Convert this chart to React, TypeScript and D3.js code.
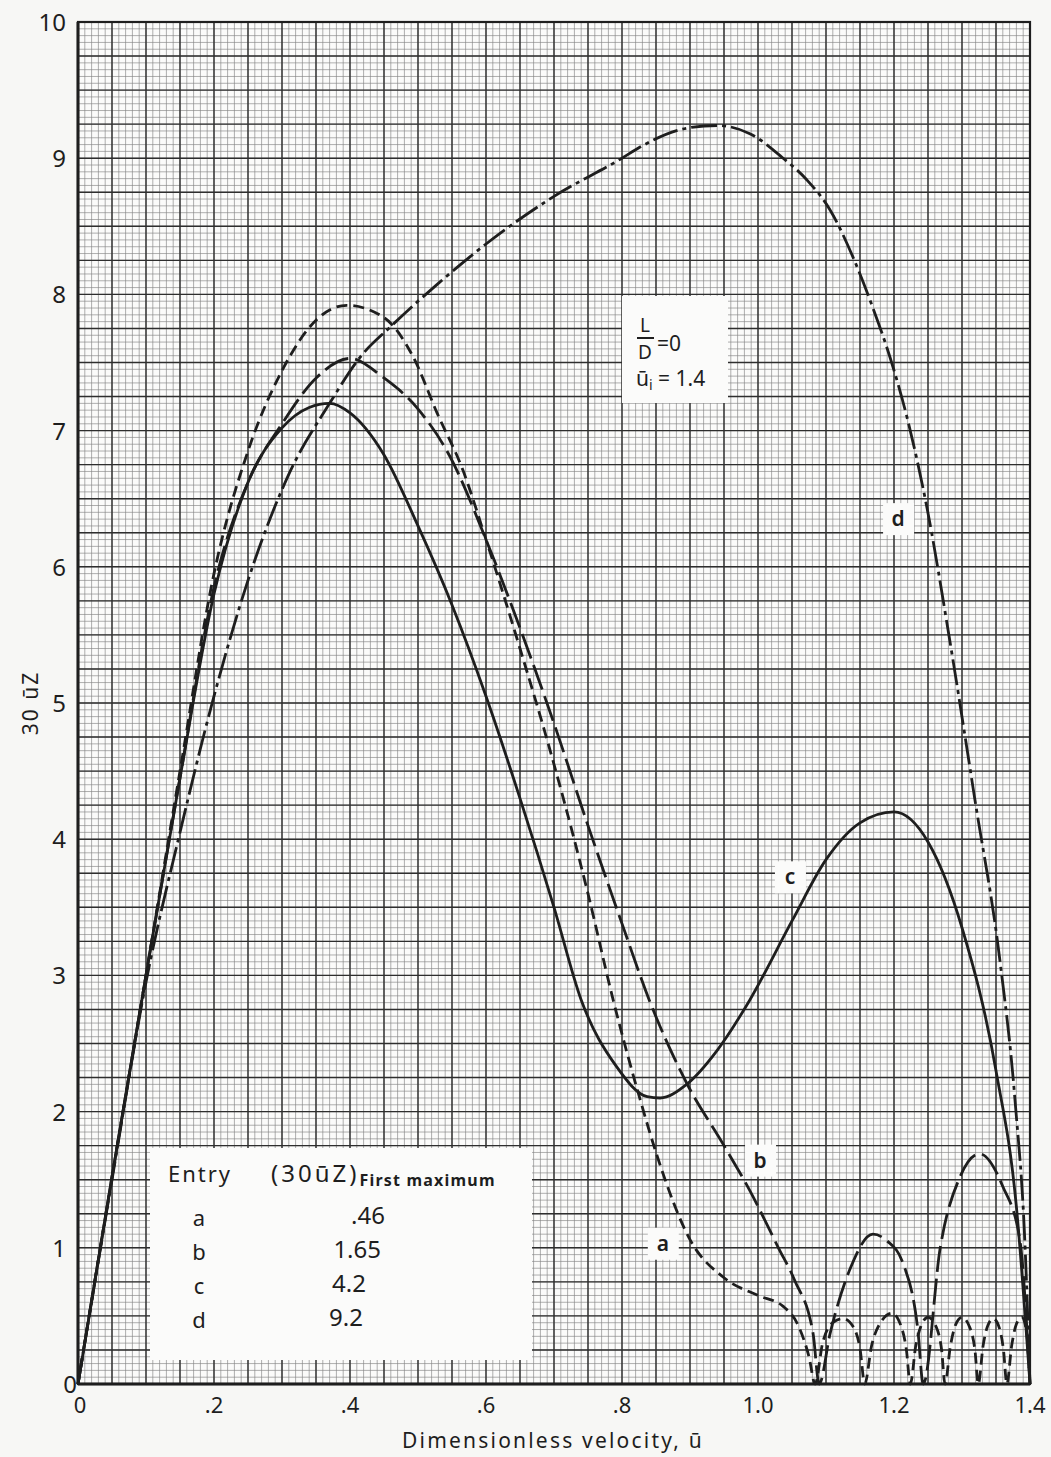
import React from "react";
import * as d3 from "d3";

const W = 1051;
const H = 1457;

// x: dimensionless velocity ū, y: 30ūZ
const xTicks = [0, 0.2, 0.4, 0.6, 0.8, 1.0, 1.2, 1.4];
const xTickLabels = ["0", ".2", ".4", ".6", ".8", "1.0", "1.2", "1.4"];
const yTicks = [0, 1, 2, 3, 4, 5, 6, 7, 8, 9, 10];

const curveA: [number, number][] = [
  [0, 0], [0.05, 1.52], [0.1, 3.0], [0.15, 4.5], [0.2, 5.95], [0.25, 6.85], [0.3, 7.44],
  [0.35, 7.81], [0.395, 7.92], [0.45, 7.83], [0.493, 7.54], [0.528, 7.13], [0.566, 6.71],
  [0.6, 6.2], [0.65, 5.4], [0.7, 4.55], [0.75, 3.6], [0.787, 2.82], [0.826, 2.1],
  [0.85, 1.7], [0.9, 1.06], [0.95, 0.78], [1.0, 0.65], [1.037, 0.57], [1.06, 0.42],
  [1.075, 0.2], [1.084, 0],
  [1.095, 0.3], [1.11, 0.45], [1.125, 0.48], [1.14, 0.42], [1.15, 0.26], [1.157, 0],
  [1.167, 0.28], [1.18, 0.45], [1.197, 0.52], [1.21, 0.43], [1.218, 0.26], [1.224, 0],
  [1.232, 0.28], [1.24, 0.43], [1.25, 0.49], [1.262, 0.42], [1.27, 0.25], [1.275, 0],
  [1.283, 0.28], [1.291, 0.44], [1.3, 0.49], [1.311, 0.42], [1.319, 0.25], [1.324, 0],
  [1.331, 0.28], [1.338, 0.43], [1.346, 0.48], [1.355, 0.41], [1.361, 0.25], [1.366, 0],
  [1.373, 0.28], [1.38, 0.44], [1.388, 0.49], [1.395, 0.38], [1.4, 0],
];

const curveB: [number, number][] = [
  [0, 0], [0.05, 1.52], [0.1, 3.0], [0.15, 4.45], [0.2, 5.85], [0.25, 6.62], [0.3, 7.05],
  [0.351, 7.39], [0.4, 7.53], [0.449, 7.39], [0.498, 7.17], [0.547, 6.81], [0.6, 6.2],
  [0.65, 5.55], [0.7, 4.85], [0.75, 4.1], [0.8, 3.38], [0.84, 2.82], [0.895, 2.21],
  [0.95, 1.75], [0.988, 1.42], [1.03, 1.0], [1.054, 0.76], [1.081, 0.37], [1.09, 0],
  [1.106, 0.37], [1.135, 0.84], [1.169, 1.1], [1.19, 1.05], [1.213, 0.89], [1.235, 0.4],
  [1.243, 0], [1.268, 1.0], [1.297, 1.52], [1.326, 1.69], [1.36, 1.45], [1.385, 1.06], [1.4, 0],
];

const curveC: [number, number][] = [
  [0, 0], [0.05, 1.52], [0.1, 3.0], [0.15, 4.45], [0.2, 5.8], [0.25, 6.62], [0.3, 7.02],
  [0.34, 7.17], [0.37, 7.2], [0.4, 7.13], [0.449, 6.83], [0.5, 6.3], [0.55, 5.72],
  [0.6, 5.05], [0.65, 4.3], [0.7, 3.5], [0.74, 2.82], [0.792, 2.33], [0.837, 2.11],
  [0.856, 2.1], [0.895, 2.2], [0.94, 2.45], [0.988, 2.82], [1.05, 3.4], [1.1, 3.85],
  [1.15, 4.12], [1.2, 4.2], [1.25, 3.98], [1.3, 3.35], [1.35, 2.3], [1.38, 1.3], [1.4, 0],
];

const curveD: [number, number][] = [
  [0, 0], [0.05, 1.5], [0.1, 2.95], [0.15, 4.05], [0.2, 5.05], [0.25, 5.9], [0.312, 6.7],
  [0.37, 7.2], [0.415, 7.54], [0.459, 7.76], [0.532, 8.09], [0.6, 8.37], [0.7, 8.72],
  [0.8, 9.0], [0.826, 9.08], [0.895, 9.22], [0.94, 9.24], [0.988, 9.18], [1.037, 9.0],
  [1.072, 8.84], [1.106, 8.62], [1.14, 8.27], [1.169, 7.9], [1.194, 7.54], [1.219, 7.1],
  [1.249, 6.42], [1.282, 5.46], [1.319, 4.29], [1.356, 3.1], [1.378, 2.08], [1.393, 0.98], [1.4, 0],
];

const tableEntries = ["a", "b", "c", "d"];
const tableValues = [".46", "1.65", "4.2", "9.2"];

const FONT = "'Noto Sans', 'DejaVu Sans', sans-serif";
const INK = "#1e1e1e";

export default function App() {
  const x = d3.scaleLinear().domain([0, 1.4]).range([78, 1030]);
  const y = d3.scaleLinear().domain([0, 10]).range([1384, 22]);

  const line = d3
    .line<[number, number]>()
    .x((d) => x(d[0]))
    .y((d) => y(d[1]))
    .curve(d3.curveMonotoneX);

  const minorX = d3.range(0, 141).map((i) => i / 100);
  const minorY = d3.range(0, 201).map((i) => i / 20);
  const heavyX = d3.range(0, 29).map((i) => i * 0.05);
  const heavyY = d3.range(0, 41).map((i) => i * 0.25);

  const series = [
    { data: curveA, dash: "11 6" },
    { data: curveB, dash: "26 7" },
    { data: curveC, dash: "none" },
    { data: curveD, dash: "26 5 4 5" },
  ];

  const labelBoxes = [
    { t: "d", u: 1.206, v: 6.35 },
    { t: "c", u: 1.047, v: 3.72 },
    { t: "b", u: 1.003, v: 1.64 },
    { t: "a", u: 0.86, v: 1.03 },
  ];

  return (
    <svg
      width={W}
      height={H}
      style={{ position: "absolute", left: 0, top: 0, background: "#f7f7f5" }}
    >
      <rect x={0} y={0} width={W} height={H} fill="#f7f7f5" />
      <rect x={x(0)} y={y(10)} width={x(1.4) - x(0)} height={y(0) - y(10)} fill="#fbfbfa" />
      {/* grid */}
      <g>
        {minorX.map((v, i) => (
          <line key={"mx" + i} x1={x(v)} x2={x(v)} y1={y(0)} y2={y(10)} stroke="#858585" strokeWidth={0.65} />
        ))}
        {minorY.map((v, i) => (
          <line key={"my" + i} x1={x(0)} x2={x(1.4)} y1={y(v)} y2={y(v)} stroke="#858585" strokeWidth={0.65} />
        ))}
        {heavyX.map((v, i) => (
          <line key={"hx" + i} x1={x(v)} x2={x(v)} y1={y(0)} y2={y(10)} stroke="#2e2e2e" strokeWidth={1.4} />
        ))}
        {heavyY.map((v, i) => (
          <line key={"hy" + i} x1={x(0)} x2={x(1.4)} y1={y(v)} y2={y(v)} stroke="#2e2e2e" strokeWidth={1.4} />
        ))}
      </g>
      {/* frame */}
      <rect x={x(0)} y={y(10)} width={x(1.4) - x(0)} height={y(0) - y(10)} fill="none" stroke={INK} strokeWidth={2.2} />
      <line x1={x(0)} x2={x(0)} y1={y(0)} y2={y(10)} stroke={INK} strokeWidth={3} />
      <line x1={x(0)} x2={x(1.4)} y1={y(0)} y2={y(0)} stroke={INK} strokeWidth={3} />

      {/* parameter box */}
      <rect x={622} y={296} width={106} height={107} fill="#fbfbfa" />
      <text x={645} y={332} textAnchor="middle" fontFamily={FONT} fontSize={19} fill={INK}>L</text>
      <line x1={637} x2={654} y1={338} y2={338} stroke={INK} strokeWidth={2} />
      <text x={645} y={359} textAnchor="middle" fontFamily={FONT} fontSize={19} fill={INK}>D</text>
      <text x={657} y={351} fontFamily={FONT} fontSize={21} fill={INK}>=0</text>
      <text x={636} y={386} fontFamily={FONT} fontSize={21} fill={INK}>
        ū<tspan fontSize={14} dy={4}>i</tspan><tspan dy={-4}> = 1.4</tspan>
      </text>

      {/* curve label boxes */}
      {labelBoxes.map((b) => (
        <g key={b.t}>
          <rect x={x(b.u) - 15} y={y(b.v) - 16} width={31} height={32} fill="#fbfbfa" />
          <text x={x(b.u)} y={y(b.v) + 7} textAnchor="middle" fontFamily={FONT} fontSize={21} fontWeight={600} fill={INK}>
            {b.t}
          </text>
        </g>
      ))}

      {/* table */}
      <rect x={150} y={1148} width={382} height={212} fill="#fbfbfa" />
      <text x={168} y={1182} fontFamily={FONT} fontSize={22} fill={INK} letterSpacing={2}>Entry</text>
      <text x={271} y={1182} fontFamily={FONT} fontSize={24} fill={INK} letterSpacing={3}>
        (30ūZ)<tspan fontSize={16} fontWeight={700} dy={4} letterSpacing={1.2}>First maximum</tspan>
      </text>
      {tableEntries.map((e, i) => (
        <text key={e} x={199} y={1226 + i * 34} textAnchor="middle" fontFamily={FONT} fontSize={22} fill={INK}>{e}</text>
      ))}
      {tableValues.map((v, i) => (
        <text key={v} x={[385, 381, 366, 363][i]} y={1224 + i * 34} textAnchor="end" fontFamily={FONT} fontSize={24} fill={INK}>{v}</text>
      ))}

      {/* curves */}
      <g fill="none" stroke={INK} strokeWidth={2.8} strokeLinejoin="round">
        {series.map((s, i) => (
          <path key={i} d={line(s.data) || ""} strokeDasharray={s.dash} />
        ))}
      </g>

      {/* axes labels */}
      {yTicks.map((t) => (
        <text key={"yt" + t} x={t === 0 ? 77 : 66} y={y(t) + 9} textAnchor="end" fontFamily={FONT} fontSize={24} fill={INK}>
          {t}
        </text>
      ))}
      {xTicks.map((t, i) => (
        <text key={"xt" + i} x={x(t) + (i === 0 ? 2 : 0)} y={1413} textAnchor="middle" fontFamily={FONT} fontSize={22} fill={INK}>
          {xTickLabels[i]}
        </text>
      ))}
      <text
        transform={`translate(38, ${y(5)}) rotate(-90)`}
        textAnchor="middle"
        fontFamily={FONT}
        fontSize={21}
        fill={INK}
        letterSpacing={2}
      >
        30 ūZ
      </text>
      <text x={553} y={1448} textAnchor="middle" fontFamily={FONT} fontSize={21} fill={INK} letterSpacing={2.2}>
        Dimensionless velocity, ū
      </text>
    </svg>
  );
}
